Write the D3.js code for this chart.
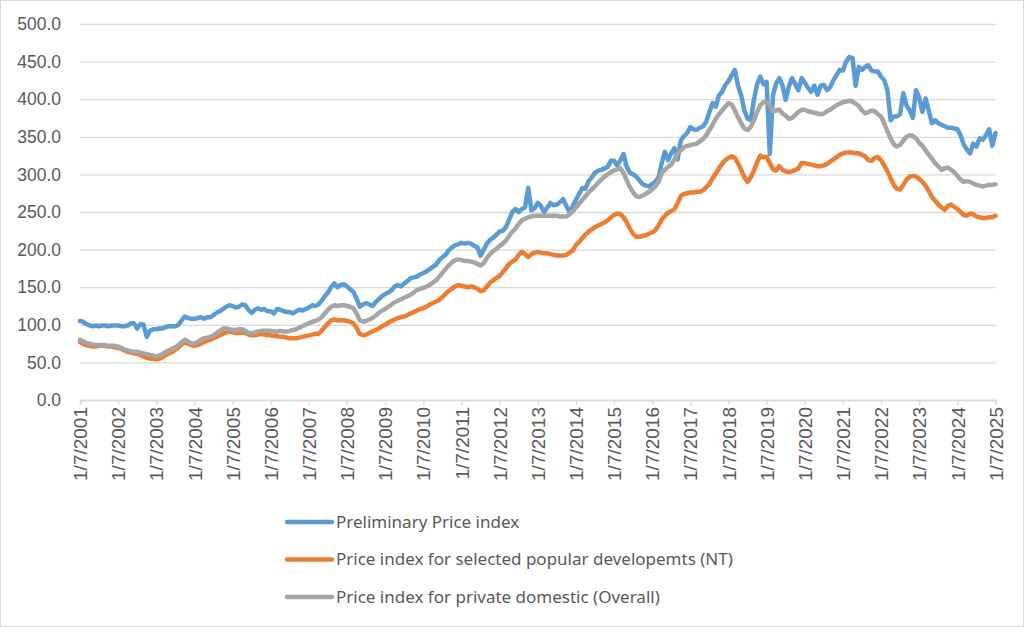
<!DOCTYPE html>
<html>
<head>
<meta charset="utf-8">
<script src="https://cdn.jsdelivr.net/npm/d3@7"></script>
<style>
  body { margin: 0; background: #fff; }
  svg { display: block; font-family: "Noto Sans", "Open Sans", sans-serif; }
</style>
</head>
<body>
<div id="chart"></div>
<script>
// monthly index values, Jul 2001 .. Jul 2025 (one row = Jul..Jun)
var preliminary = [
  105, 104, 101, 99, 98, 99, 98, 99, 99, 98, 99, 99,
  99, 98, 98, 99, 102, 102, 95, 101, 100, 84, 92, 94,
  94, 95, 95, 97, 98, 98, 98, 100, 106, 111, 109, 108,
  108, 109, 110, 108, 110, 110, 113, 116, 118, 121, 124, 126,
  125, 123, 124, 127, 126, 120, 116, 120, 122, 120, 121, 118,
  118, 115, 121, 120, 118, 117, 117, 115, 118, 120, 119, 121,
  123, 126, 125, 127, 132, 138, 143, 150, 155, 150, 153, 154,
  151, 147, 144, 135, 124, 127, 129, 127, 125, 130, 134, 138,
  141, 143, 146, 151, 153, 151, 155, 158, 162, 163, 164, 167,
  169, 171, 174, 177, 180, 186, 190, 193, 199, 203, 206, 207,
  209, 208, 209, 208, 205, 203, 192, 200, 208, 213, 216, 220,
  224, 225, 230, 240, 250, 254, 250, 254, 256, 282, 252, 255,
  262, 258, 250, 256, 262, 259, 260, 263, 267, 258, 250, 258,
  266, 274, 282, 281, 291, 296, 302, 305, 306, 308, 310, 318,
  318, 312, 319, 327, 310, 302, 300, 297, 292, 287, 285, 284,
  287, 290, 296, 315, 330, 319, 328, 335, 320, 345, 351, 355,
  363, 360, 359, 362, 364, 370, 383, 395, 390, 405, 410, 419,
  424, 432, 439, 418, 405, 385, 374, 372, 399, 420, 430, 420,
  423, 327, 405, 421, 428, 418, 399, 417, 428, 420, 412, 428,
  422, 415, 410, 418, 406, 418, 419, 412, 416, 425, 432, 439,
  438, 450, 456, 455, 418, 443, 439, 443, 445, 438, 437, 437,
  430, 425, 412, 372, 377, 377, 380, 408, 392, 385, 375, 412,
  402, 383, 401, 385, 368, 372, 368, 366, 364, 362, 362, 361,
  360, 352, 340, 333, 328, 341, 337, 348, 346, 352, 360, 338,
  355
];

var popularNT = [
  77, 75, 73, 72, 71, 71, 72, 72, 72, 71, 71, 70,
  69, 68, 66, 64, 63, 62, 61, 60, 58, 56, 55, 55,
  54, 55, 57, 60, 62, 64, 67, 70, 74, 77, 75, 73,
  72, 73, 75, 77, 79, 80, 82, 84, 86, 88, 90, 91,
  90, 89, 89, 90, 89, 87, 86, 86, 87, 88, 87, 86,
  86, 85, 85, 84, 84, 83, 82, 82, 82, 83, 84, 85,
  86, 87, 88, 88, 92, 97, 102, 106, 107, 106, 106, 106,
  105, 104, 102, 96, 88, 86, 87, 89, 91, 93, 95, 98,
  100, 103, 105, 107, 109, 110, 111, 113, 115, 117, 119, 121,
  122, 124, 127, 129, 131, 133, 137, 141, 145, 148, 151, 153,
  152, 151, 150, 151, 150, 148, 145, 146, 151, 156, 159, 162,
  165, 170, 175, 181, 184, 187, 193, 197, 194, 190, 194, 196,
  197, 196, 195, 195, 194, 193, 192, 192, 192, 193, 196, 199,
  206, 210, 215, 220, 224, 227, 230, 232, 234, 236, 239, 243,
  246, 248, 247, 243, 236, 228, 221, 217, 217, 218, 219, 221,
  223, 226, 232, 240, 245, 249, 251, 254, 262, 271, 274, 275,
  276, 276, 277, 277, 279, 283, 287, 295, 301, 308, 314, 319,
  322, 324, 322, 315, 306, 296, 290, 296, 305, 316, 325, 323,
  323, 315, 307, 305, 311, 306, 304, 303, 304, 306, 308, 315,
  315, 314, 313, 312, 311, 311, 312, 314, 317, 320, 323, 326,
  328, 329, 329, 329, 328, 328, 326, 324, 319, 318, 322, 323,
  319, 312, 304, 295, 286, 281, 280, 286, 293, 297, 298, 297,
  294, 290, 285, 278, 270, 265, 260, 256, 253, 258, 260, 257,
  254, 250, 246, 245, 248, 247, 244, 243, 242, 242, 243, 243,
  245
];

var overall = [
  80, 78, 76, 75, 74, 73, 73, 73, 73, 72, 72, 72,
  71, 69, 67, 66, 65, 64, 64, 63, 62, 61, 60, 59,
  58, 59, 61, 64, 66, 68, 70, 73, 77, 80, 78, 75,
  75, 77, 80, 82, 83, 84, 86, 89, 92, 95, 95, 94,
  93, 93, 94, 94, 92, 89, 89, 90, 91, 92, 92, 92,
  92, 91, 91, 92, 91, 91, 92, 93, 94, 96, 98, 100,
  102, 104, 105, 107, 110, 115, 120, 124, 126, 125, 126, 126,
  125, 124, 122, 115, 106, 104, 105, 107, 109, 112, 116, 119,
  121, 124, 127, 130, 132, 134, 136, 138, 140, 143, 146, 148,
  149, 151, 153, 156, 159, 164, 169, 174, 179, 183, 186, 187,
  186, 185, 185, 184, 183, 181, 179, 182, 189, 194, 198, 201,
  205, 208, 212, 218, 224, 228, 234, 239, 241, 243, 244, 245,
  245, 245, 245, 245, 245, 245, 245, 244, 244, 244, 247, 251,
  256, 261, 266, 271, 276, 280, 284, 289, 293, 297, 300, 303,
  305, 307, 308, 302, 292, 283, 276, 271, 270, 272, 274, 277,
  280, 284, 290, 302, 306, 310, 313, 320, 328, 332, 336, 338,
  339, 340, 341, 344, 347, 352, 359, 366, 374, 380, 385, 390,
  395, 393, 385, 376, 368, 361, 359, 363, 372, 383, 392, 396,
  396, 392, 384, 385, 386, 381, 378, 374, 375, 379, 383, 386,
  386, 384, 383, 382, 381, 380, 381, 384, 386, 389, 392, 394,
  396, 397, 398, 397, 394, 391, 385, 381, 383, 385, 384, 380,
  377, 368, 357, 348, 340, 337, 339, 345, 350, 352, 351, 348,
  342, 338, 332, 326, 321, 315, 311, 306, 308, 309, 306, 303,
  298, 293, 290, 291, 290, 288, 286, 285, 284, 285, 286, 286,
  287
];

var seriesNames = [
  "Preliminary Price index",
  "Price index for selected popular developemts (NT)",
  "Price index for private domestic (Overall)"
];
var seriesColors = ["#5b9bd5", "#ed7d31", "#a5a5a5"];

var yTicks = [0, 50, 100, 150, 200, 250, 300, 350, 400, 450, 500];
var tickLabels = [
  "1/7/2001", "1/7/2002", "1/7/2003", "1/7/2004", "1/7/2005", "1/7/2006",
  "1/7/2007", "1/7/2008", "1/7/2009", "1/7/2010", "1/7/2011", "1/7/2012",
  "1/7/2013", "1/7/2014", "1/7/2015", "1/7/2016", "1/7/2017", "1/7/2018",
  "1/7/2019", "1/7/2020", "1/7/2021", "1/7/2022", "1/7/2023", "1/7/2024",
  "1/7/2025"
];

var W = 1024, H = 627;
var svg = d3.select("#chart").append("svg")
  .attr("width", W)
  .attr("height", H);

// outer frame like the excel chart area
svg.append("rect")
  .attr("x", 0.5).attr("y", 0.5)
  .attr("width", W - 1).attr("height", H - 1)
  .attr("fill", "#fff")
  .attr("stroke", "#d9d9d9");

var x = d3.scaleLinear().domain([0, preliminary.length - 1]).range([80, 995.5]);
var y = d3.scaleLinear().domain([0, 500]).range([400, 24]);

// gridlines + y labels
var yAxis = d3.axisLeft(y)
  .tickValues(yTicks)
  .tickSize(-(995.5 - 80))
  .tickPadding(19)
  .tickFormat(d3.format(".1f"));

var gy = svg.append("g")
  .attr("transform", "translate(80,0)")
  .call(yAxis);
gy.select(".domain").remove();
gy.selectAll(".tick line").attr("stroke", "#d9d9d9").attr("stroke-width", 1.3);
gy.selectAll(".tick text")
  .attr("fill", "#595959")
  .style("font-size", "17.5px");

// x axis, one tick per year
var xAxis = d3.axisBottom(x)
  .tickValues(tickLabels.map(function (d, i) { return i * 12; }))
  .tickSize(5)
  .tickFormat(function (d, i) { return tickLabels[i]; });

var gx = svg.append("g")
  .attr("transform", "translate(0,400)")
  .call(xAxis);
gx.select(".domain").attr("stroke", "#d9d9d9").attr("stroke-width", 1.3);
gx.selectAll(".tick line").attr("stroke", "#d9d9d9").attr("stroke-width", 1.3);
gx.selectAll(".tick text")
  .attr("fill", "#595959")
  .style("font-size", "19px")
  .attr("transform", "rotate(-90)")
  .attr("text-anchor", "end")
  .attr("x", -7)
  .attr("y", 0)
  .attr("dy", "0.35em");

// the three lines
var line = d3.line()
  .x(function (d, i) { return x(i); })
  .y(function (d) { return y(d); });

var allSeries = [preliminary, popularNT, overall];
svg.append("g").selectAll("path")
  .data(allSeries)
  .join("path")
  .attr("d", line)
  .attr("fill", "none")
  .attr("stroke", function (d, i) { return seriesColors[i]; })
  .attr("stroke-width", 4.5)
  .attr("stroke-linejoin", "round")
  .attr("stroke-linecap", "round");

// legend under the plot
var legend = svg.append("g").attr("transform", "translate(287,522)");
var item = legend.selectAll("g")
  .data(seriesNames)
  .join("g")
  .attr("transform", function (d, i) { return "translate(0," + (i * 37.5) + ")"; });
item.append("line")
  .attr("x1", 0).attr("x2", 45)
  .attr("stroke", function (d, i) { return seriesColors[i]; })
  .attr("stroke-width", 4.5)
  .attr("stroke-linecap", "round");
item.append("text")
  .attr("x", 49)
  .attr("dy", "0.35em")
  .attr("fill", "#595959")
  .style("font-size", "17px")
  .text(function (d) { return d; });
</script>
</body>
</html>
